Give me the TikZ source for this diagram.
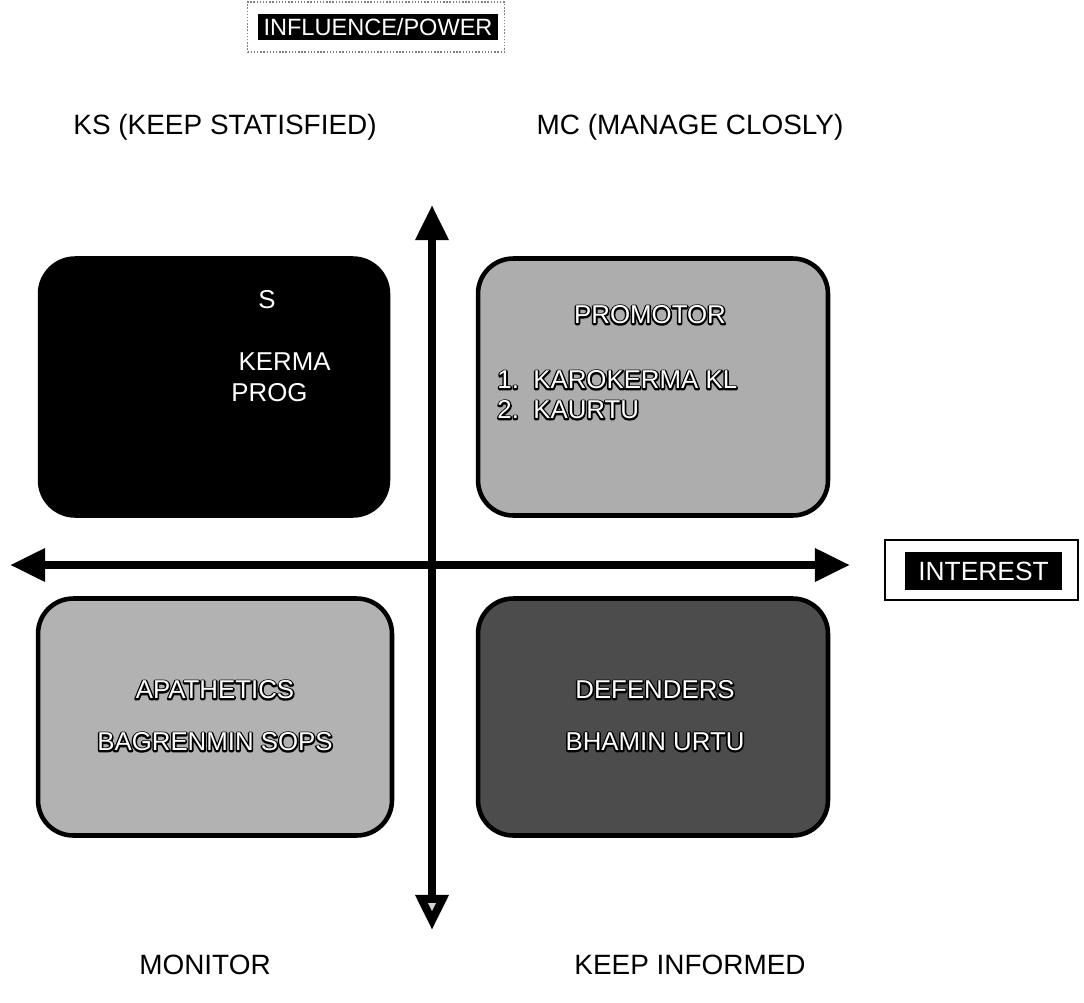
\documentclass[tikz,border=0pt]{standalone}
\usepackage{fontspec}
\setmainfont{Liberation Sans}
\usetikzlibrary{arrows.meta,positioning}
\definecolor{promogray}{gray}{0.68}
\definecolor{apagray}{gray}{0.70}
\definecolor{defgray}{gray}{0.30}
% white letters with a black outline
\newcommand{\outl}[1]{\rlap{\special{pdf:literal direct q 0 G 1 j 1 J 1 Tr 1.8 w}#1\special{pdf:literal direct 0 Tr Q}}{\color{white}#1}}

\begin{document}
\begin{tikzpicture}[x=0.02cm, y=0.02cm, thick,
        quad/.style={rectangle, draw=black, line width=2.6pt, rounded corners=20pt, minimum width=7cm},
        head/.style={font=\fontsize{15.9}{19}\selectfont},
        boxtxt/.style={font=\fontsize{14.7}{18}\selectfont, inner sep=1pt},
        tag/.style={rectangle, fill=black, text=white, inner sep=0pt},
        axis/.style={line width=4.5pt}]

    \useasboundingbox (0,0) rectangle (1084,1002);

    % title and axis tags
    \node [draw=gray, densely dotted, minimum width=5.14cm, minimum height=1cm] (powerframe) at (376,975) {};
    \node [tag, minimum width=4.8cm, minimum height=0.52cm, font=\fontsize{13.4}{16}\selectfont] (power) at (378,975) {INFLUENCE/POWER};
    \node [draw, line width=1.6pt, minimum width=3.86cm, minimum height=1.2cm] (interestframe) at (981.5,432) {};
    \node [tag, minimum width=3.14cm, minimum height=0.76cm, font=\fontsize{15}{18}\selectfont] (interest) at (983.5,431) {INTEREST};

    % quadrants
    \node [quad, fill=black, minimum width=6.96cm, minimum height=5.14cm] (ks) at (214,615) {};
    \node [quad, fill=promogray, minimum height=5.14cm] (mc) at (653,615) {};
    \node [quad, fill=apagray, minimum width=7.08cm, minimum height=4.74cm] (mon) at (215,285) {};
    \node [quad, fill=defgray, minimum height=4.74cm] (inf) at (653,285) {};

    \node [head] (kslabel) at (225,875) {KS (KEEP STATISFIED)};
    \node [head] (mclabel) at (690,875) {MC (MANAGE CLOSLY)};
    \node [head] (monlabel) at (205,37) {MONITOR};
    \node [head] (inflabel) at (690,37) {KEEP INFORMED};

    % texts in the quadrants
    \node [boxtxt, text=white] (kss) at (267,702) {S};
    \node [boxtxt, text=white, anchor=east] (ksa) at (333,640) {KERMA};
    \node [boxtxt, text=white, anchor=east] (ksb) at (310,609) {PROG};

    \node [boxtxt] (promotor) at (650,687) {\outl{PROMOTOR}};
    \node [boxtxt, anchor=west] (prom1) at (495,622) {\outl{1.\ \ KAROKERMA KL}};
    \node [boxtxt, anchor=west] (prom2) at (495,592) {\outl{2.\ \ KAURTU}};

    \node [boxtxt] (apath) at (215,312) {\outl{APATHETICS}};
    \node [boxtxt] (bagren) at (215,260) {\outl{BAGRENMIN SOPS}};

    \node [boxtxt] (defend) at (655,312) {\outl{DEFENDERS}};
    \node [boxtxt] (bhamin) at (655,260) {\outl{BHAMIN URTU}};

    % axes
    \coordinate (top) at (432,797);
    \coordinate (bottom) at (432,72);
    \coordinate (left) at (10,437);
    \coordinate (right) at (850,437);
    \draw [axis, {Triangle[width=18pt, length=20pt, fill=gray!35]}-{Triangle[width=18pt, length=20pt]}] (bottom) -- (top);
    \draw [axis, {Triangle[width=18pt, length=20pt]}-{Triangle[width=18pt, length=20pt]}] (left) -- (right);
\end{tikzpicture}
\end{document}
